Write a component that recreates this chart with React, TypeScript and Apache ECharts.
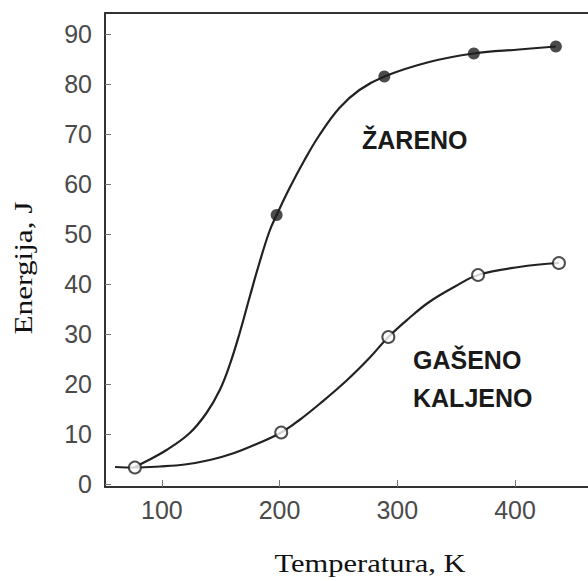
import React, { useEffect, useRef } from "react";
import * as echarts from "echarts";

const tempTicks = [100, 200, 300, 400];
const energyTicks = [0, 10, 20, 30, 40, 50, 60, 70, 80, 90];

// measured points (filled = žareno, open = gašeno kaljeno)
const zarenoPoints: [number, number][] = [
  [197.5, 53.8], [289, 81.5], [365, 86.1], [434.7, 87.5],
];
const gasenoPoints: [number, number][] = [
  [77.1, 3.3], [201.4, 10.3], [292.4, 29.4], [368.6, 41.8], [437.3, 44.2],
];

// drawn curves
const zarenoCurve: [number, number][] = [
  [77.1, 3.4], [83.9, 4.2], [104, 6.8], [123.7, 10.2], [137.9, 14.2], [149.2, 18.8],
  [157.6, 23.8], [166.1, 30.2], [174.6, 37.4], [183.1, 44.4], [191.5, 50.6],
  [197.5, 53.8], [208.5, 59.2], [221.2, 64.8], [233.9, 69.8], [250.8, 75.2],
  [267.8, 78.8], [289, 81.5], [327.1, 84.4], [365, 86.1], [403.4, 86.9], [434.7, 87.5],
];
const gasenoCurve: [number, number][] = [
  [60.2, 3.4], [77.1, 3.3], [98.3, 3.5], [119.5, 3.9], [140.7, 4.8], [160.2, 6.1],
  [180.5, 8.0], [201.4, 10.3], [216.9, 12.8], [233.9, 16.0], [256.5, 20.6],
  [276.3, 25.2], [292.4, 29.4], [310.2, 33.2], [327.1, 36.4], [348.3, 39.4],
  [368.6, 41.8], [403.4, 43.4], [437.3, 44.2],
];

const xTitle = "Temperatura, K";
const yTitle = "Energija, J";
const label1 = "ŽARENO";
const label2 = "GAŠENO";
const label3 = "KALJENO";

export default function App() {
  const ref = useRef<HTMLDivElement>(null);
  useEffect(() => {
    if (!ref.current) return;
    const chart = echarts.init(ref.current, null, { renderer: "svg" });
    const axisColor = "#333";
    const labelColor = "#4a4a4a";
    chart.setOption({
      animation: false,
      backgroundColor: "#fff",
      grid: { left: 105, right: -2, top: 13, bottom: 94 },
      xAxis: [
        {
          type: "value",
          min: 51.7,
          max: 462,
          splitLine: { show: false },
          axisLine: { show: true, onZero: false, lineStyle: { color: axisColor, width: 2 } },
          axisTick: {
            show: true,
            inside: true,
            length: 7,
            customValues: tempTicks,
            lineStyle: { color: "#777", width: 1 },
          },
          axisLabel: {
            customValues: tempTicks,
            color: labelColor,
            fontSize: 25,
            fontFamily: "Liberation Sans, Arial, sans-serif",
            margin: 10,
          },
        },
        {
          type: "value",
          position: "top",
          min: 51.7,
          max: 462,
          splitLine: { show: false },
          axisLine: { show: true, onZero: false, lineStyle: { color: axisColor, width: 2 } },
          axisTick: { show: false },
          axisLabel: { show: false },
        },
      ],
      yAxis: {
        type: "value",
        min: -0.6,
        max: 94.2,
        splitLine: { show: false },
        axisLine: { show: true, onZero: false, lineStyle: { color: axisColor, width: 2 } },
        axisTick: {
          show: true,
          inside: true,
          length: 6,
          customValues: energyTicks,
          lineStyle: { color: "#777", width: 1 },
        },
        axisLabel: {
          customValues: energyTicks,
          color: labelColor,
          fontSize: 25,
          fontFamily: "Liberation Sans, Arial, sans-serif",
          margin: 13,
        },
      },
      series: [
        {
          type: "line",
          data: zarenoCurve,
          smooth: 0.4,
          showSymbol: false,
          lineStyle: { color: "#222", width: 2.2 },
          z: 2,
        },
        {
          type: "line",
          data: gasenoCurve,
          smooth: 0.4,
          showSymbol: false,
          lineStyle: { color: "#222", width: 2.2 },
          z: 2,
        },
        {
          type: "scatter",
          data: zarenoPoints,
          symbol: "circle",
          symbolSize: 12,
          itemStyle: { color: "#1e1e1e" },
          z: 5,
        },
        {
          type: "scatter",
          data: gasenoPoints,
          symbol: "circle",
          symbolSize: 12,
          itemStyle: { color: "#fff", borderColor: "#222", borderWidth: 2 },
          z: 5,
        },
      ],
      graphic: [
        {
          type: "text",
          x: 370,
          y: 563,
          scaleX: 1.22,
          style: {
            text: xTitle,
            fill: "#111",
            font: "25px 'Liberation Serif', 'Times New Roman', serif",
            align: "center",
            verticalAlign: "middle",
          },
        },
        {
          type: "text",
          x: 24,
          y: 268,
          rotation: Math.PI / 2,
          scaleX: 1.25,
          style: {
            text: yTitle,
            fill: "#111",
            font: "25px 'Liberation Serif', 'Times New Roman', serif",
            align: "center",
            verticalAlign: "middle",
          },
        },
        {
          type: "text",
          x: 362,
          y: 140,
          style: {
            text: label1,
            fill: "#1a1a1a",
            font: "bold 25px 'Liberation Sans', Arial, sans-serif",
            align: "left",
            verticalAlign: "middle",
          },
        },
        {
          type: "text",
          x: 413,
          y: 360,
          style: {
            text: label2,
            fill: "#1a1a1a",
            font: "bold 25px 'Liberation Sans', Arial, sans-serif",
            align: "left",
            verticalAlign: "middle",
          },
        },
        {
          type: "text",
          x: 413,
          y: 398,
          style: {
            text: label3,
            fill: "#1a1a1a",
            font: "bold 25px 'Liberation Sans', Arial, sans-serif",
            align: "left",
            verticalAlign: "middle",
          },
        },
      ],
    });
    return () => chart.dispose();
  }, []);
  return (
    <div
      ref={ref}
      style={{ position: "absolute", left: 0, top: 0, width: 588, height: 581 }}
    />
  );
}
